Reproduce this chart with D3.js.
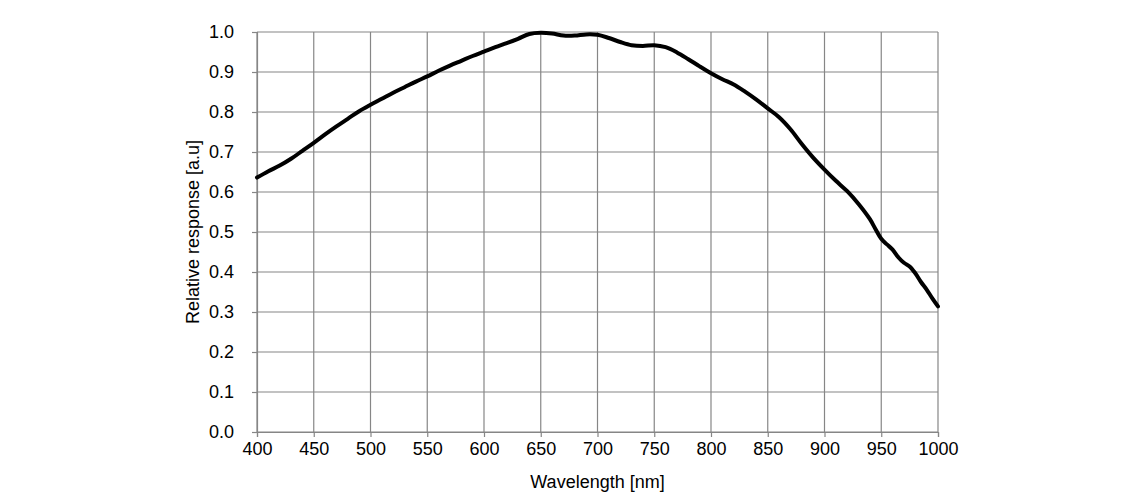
<!DOCTYPE html>
<html>
<head>
<meta charset="utf-8">
<script src="https://cdn.jsdelivr.net/npm/d3@7"></script>
<style>
  body { margin: 0; background: #fff; }
  text { font-family: "Liberation Sans", Arial, sans-serif; fill: #000; }
</style>
</head>
<body>
<svg id="chart" width="1130" height="504"></svg>
<script>
// spectral response
var wavelengths = [400, 410, 420, 430, 440, 450, 460, 470, 480, 490,
  500, 510, 520, 530, 540, 550, 560, 570, 580, 590,
  600, 610, 620, 630, 640, 650, 660, 670, 680, 690,
  700, 710, 720, 730, 740, 750, 760, 770, 780, 790,
  800, 810, 820, 830, 840, 850, 860, 870, 880, 890,
  900, 910, 920, 930, 940, 945, 950, 955, 960, 965,
  970, 975, 980, 985, 990, 995, 1000];
var response = [0.636, 0.652, 0.666, 0.683, 0.703, 0.723, 0.744, 0.764, 0.783, 0.802,
  0.818, 0.833, 0.848, 0.862, 0.876, 0.889, 0.903, 0.916, 0.928, 0.940,
  0.951, 0.962, 0.972, 0.983, 0.995, 0.998, 0.996, 0.991, 0.991, 0.994,
  0.993, 0.985, 0.975, 0.967, 0.965, 0.967, 0.962, 0.949, 0.932, 0.914,
  0.897, 0.882, 0.869, 0.851, 0.831, 0.809, 0.787, 0.757, 0.720, 0.686,
  0.656, 0.628, 0.602, 0.570, 0.532, 0.507, 0.483, 0.469, 0.456, 0.437,
  0.423, 0.414, 0.397, 0.375, 0.356, 0.334, 0.314];
var xTicks = [400, 450, 500, 550, 600, 650, 700, 750, 800, 850, 900, 950, 1000];
var yTicks = [0, 0.1, 0.2, 0.3, 0.4, 0.5, 0.6, 0.7, 0.8, 0.9, 1.0];

var margin = {left: 257, top: 32, right: 192, bottom: 72};
var width = 1130 - margin.left - margin.right;
var height = 504 - margin.top - margin.bottom;
var gridColor = "#868686";
var fontSize = 18;

var svg = d3.select("#chart");
var g = svg.append("g").attr("transform", "translate(" + margin.left + "," + margin.top + ")");

var x = d3.scaleLinear().domain([400, 1000]).range([0, width]);
var y = d3.scaleLinear().domain([0, 1]).range([height, 0]);

// grid
g.append("g").selectAll("line").data(xTicks).join("line")
  .attr("x1", d => x(d)).attr("x2", d => x(d))
  .attr("y1", 0).attr("y2", height)
  .attr("stroke", gridColor).attr("stroke-width", 1.2);
g.append("g").selectAll("line").data(yTicks).join("line")
  .attr("x1", 0).attr("x2", width)
  .attr("y1", d => y(d)).attr("y2", d => y(d))
  .attr("stroke", gridColor).attr("stroke-width", 1.2);

// axes
var xAxis = g.append("g").attr("transform", "translate(0," + height + ")")
  .call(d3.axisBottom(x).tickValues(xTicks).tickSize(5).tickPadding(5).tickFormat(d3.format("d")));
var yAxis = g.append("g")
  .call(d3.axisLeft(y).tickValues(yTicks).tickSize(5).tickPadding(18).tickFormat(d3.format(".1f")));

[xAxis, yAxis].forEach(function(a) {
  a.select(".domain").attr("stroke", gridColor).attr("stroke-width", 1.2);
  a.selectAll(".tick line").attr("stroke", gridColor).attr("stroke-width", 1.2);
  a.selectAll("text").attr("font-size", fontSize).attr("fill", "#000")
    .style("font-family", "'Liberation Sans', Arial, sans-serif");
});

// curve
var line = d3.line()
  .x((d, i) => x(wavelengths[i]))
  .y(d => y(d))
  .curve(d3.curveCatmullRom.alpha(0.5));

g.append("path")
  .datum(response)
  .attr("d", line)
  .attr("fill", "none")
  .attr("stroke", "#000")
  .attr("stroke-width", 4)
  .attr("stroke-linejoin", "round")
  .attr("stroke-linecap", "round");

// axis titles
svg.append("text")
  .attr("x", margin.left + width / 2).attr("y", 488)
  .attr("text-anchor", "middle").attr("font-size", fontSize)
  .text("Wavelength [nm]");

svg.append("text")
  .attr("transform", "translate(199," + (margin.top + height / 2) + ") rotate(-90)")
  .attr("text-anchor", "middle").attr("font-size", fontSize)
  .text("Relative response [a.u]");
</script>
</body>
</html>
